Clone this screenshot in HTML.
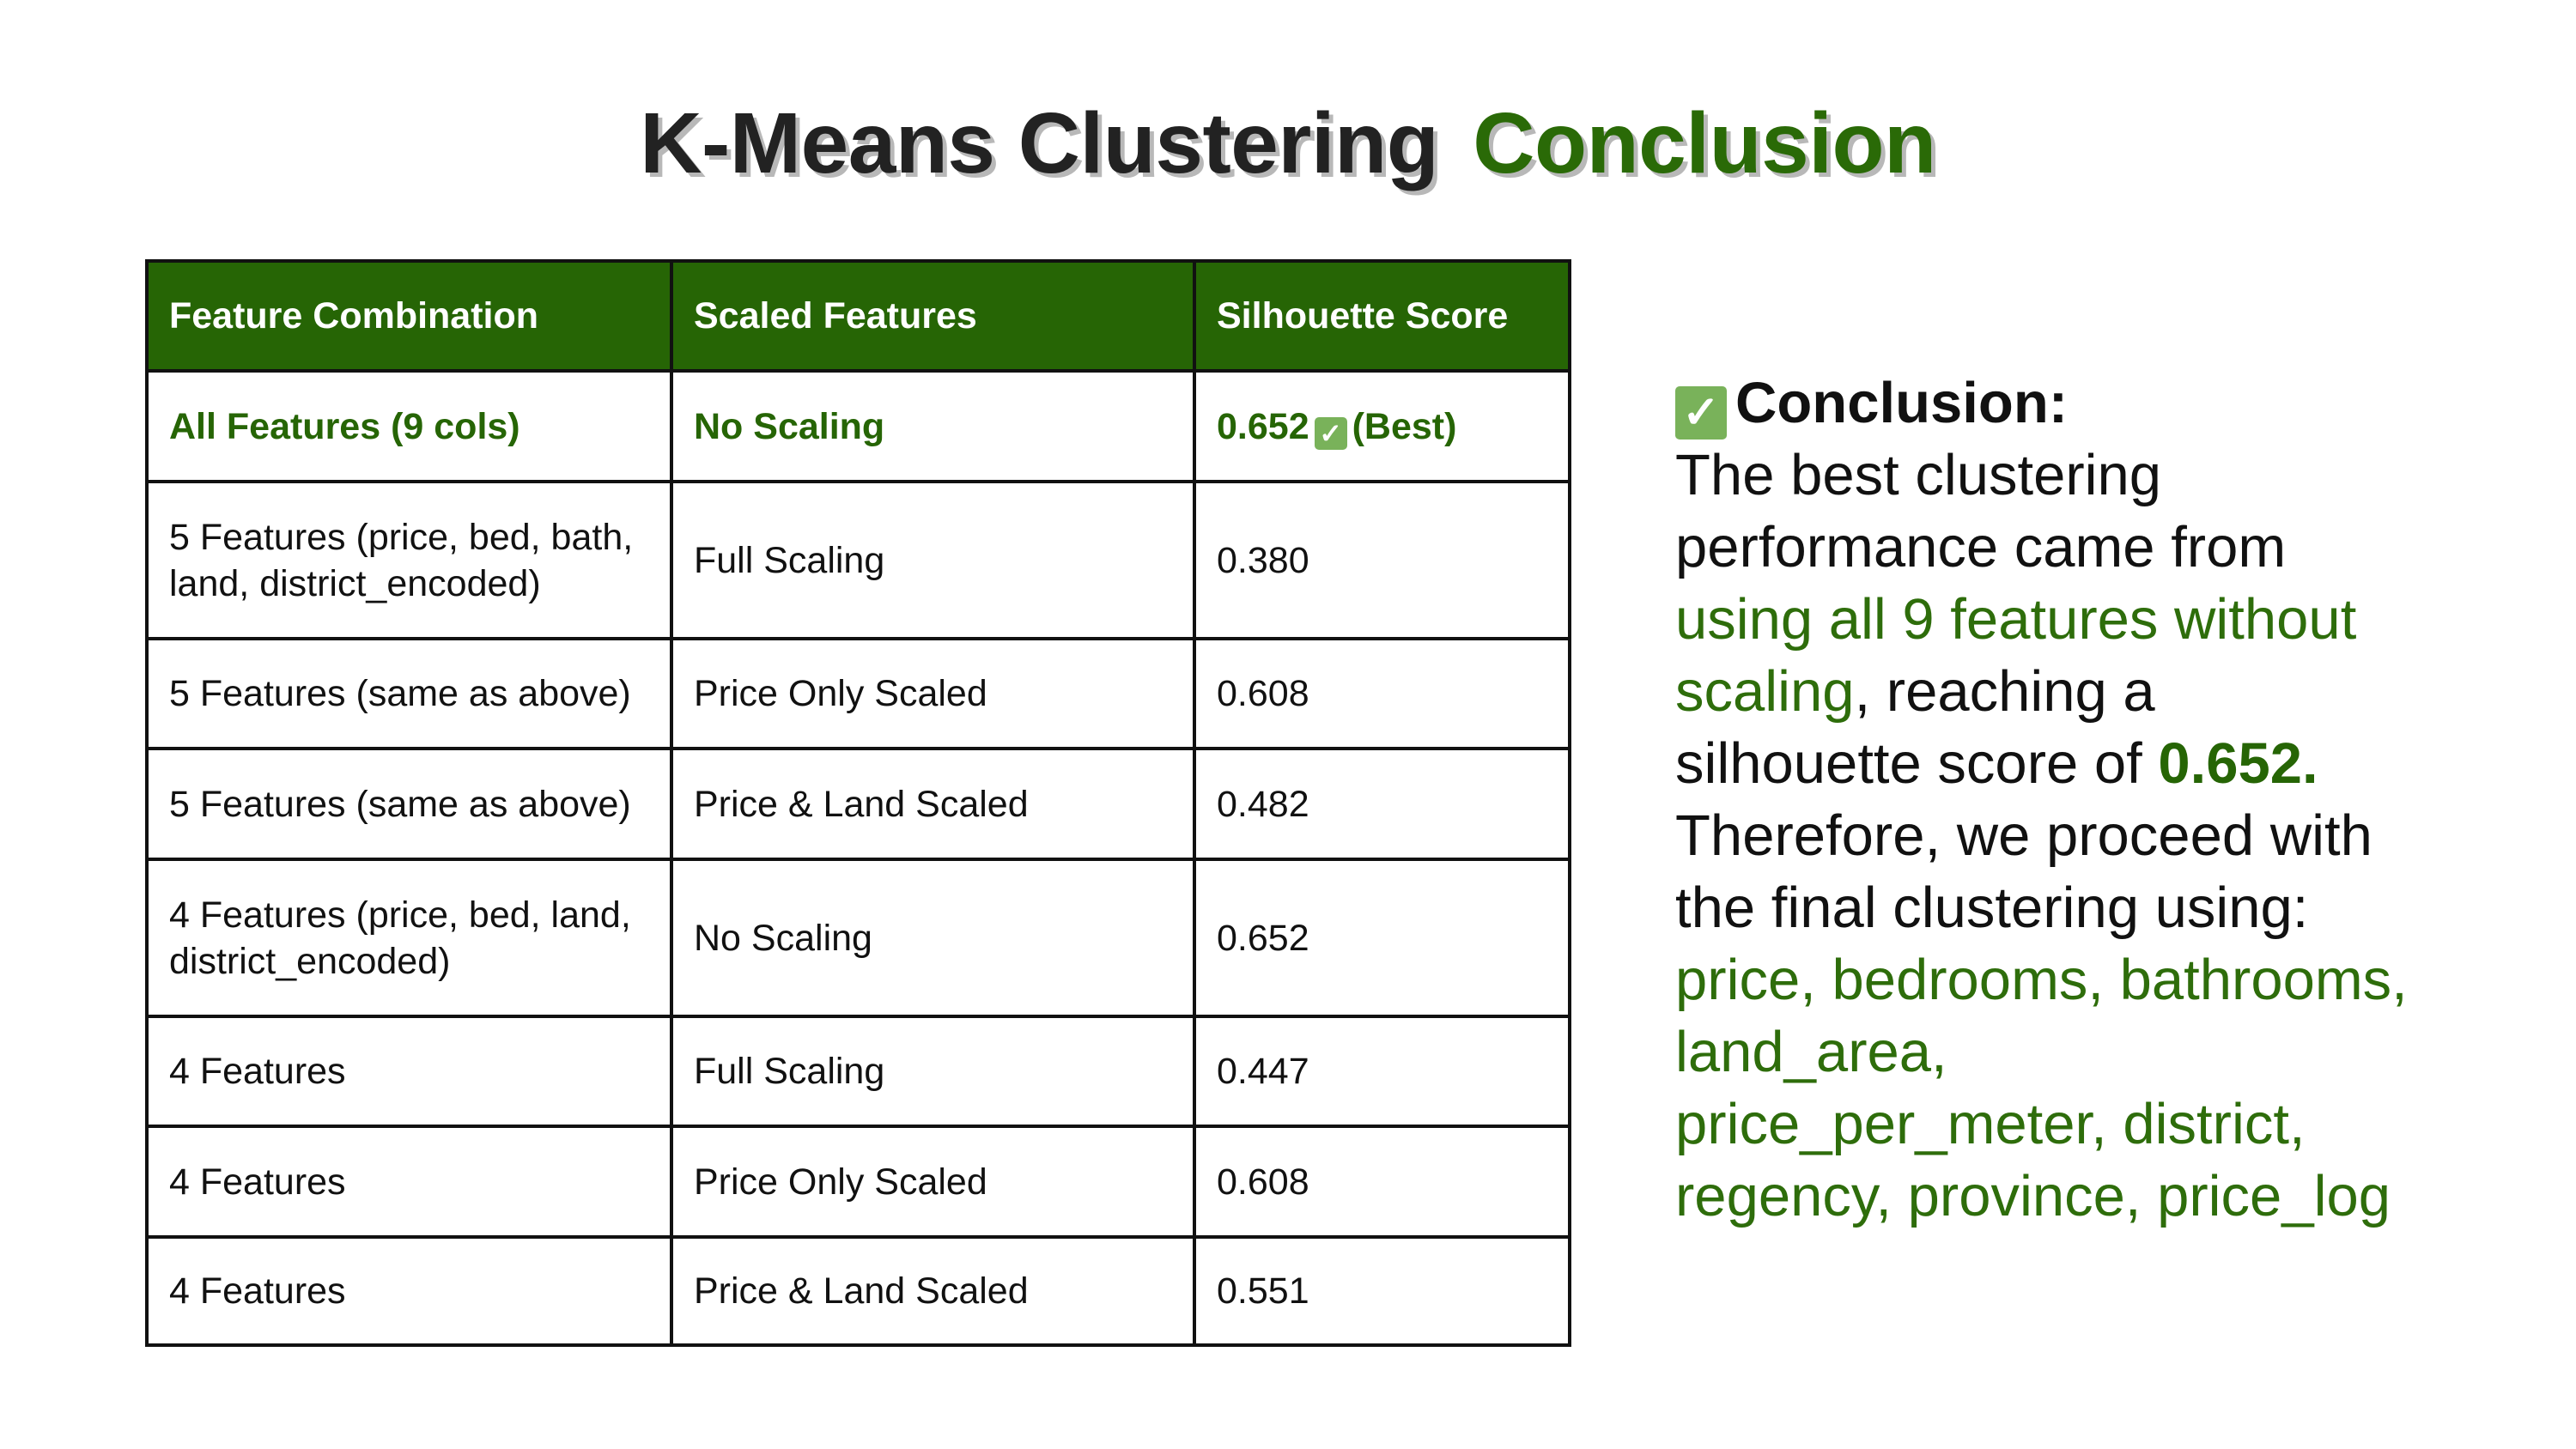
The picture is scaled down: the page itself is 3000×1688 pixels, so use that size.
<!DOCTYPE html>
<html><head><meta charset="utf-8"><style>
html,body{margin:0;padding:0;background:#fff;}
body{width:3000px;height:1688px;position:relative;overflow:hidden;font-family:"Liberation Sans",sans-serif;}
.title{position:absolute;left:0;width:3000px;top:112px;text-align:center;font-size:100px;font-weight:bold;line-height:110px;color:#222;text-shadow:5px 5px 0 #b8b8b8;letter-spacing:-0.5px;}
.title .g{color:#2a6a07;margin-left:40px;}
table{position:absolute;left:169px;top:302px;width:1657px;border-collapse:collapse;table-layout:fixed;}
td,th{border:4px solid #111;padding:0 0 0 24px;font-size:43px;text-align:left;vertical-align:middle;color:#111;line-height:54px;}
th{background:#266505;color:#fff;font-weight:bold;}
.best td{color:#266505;font-weight:bold;}
.chk{display:inline-block;width:38px;height:38px;background:#79b25a;border-radius:5px;color:#fff;font-size:32px;line-height:38px;text-align:center;vertical-align:-5px;margin:0 6px;}
.panel{position:absolute;left:1951px;top:0;}
.ln{position:absolute;left:0;white-space:nowrap;font-size:67px;line-height:84px;color:#111;}
.gr{color:#2e6d0b;}
.bd{font-weight:bold;color:#266505;}
.hd{font-weight:bold;font-size:67px;}
</style></head><body>
<div class="title">K-Means Clustering<span class="g">Conclusion</span></div>
<table>
<colgroup><col style="width:611px"><col style="width:609px"><col style="width:437px"></colgroup>
<tr style="height:128px"><th>Feature Combination</th><th>Scaled Features</th><th>Silhouette Score</th></tr>
<tr class="best" style="height:129px"><td>All Features (9 cols)</td><td>No Scaling</td><td>0.652<span class="chk">✓</span>(Best)</td></tr>
<tr style="height:183px"><td>5 Features (price, bed, bath, land, district_encoded)</td><td>Full Scaling</td><td>0.380</td></tr>
<tr style="height:128px"><td>5 Features (same as above)</td><td>Price Only Scaled</td><td>0.608</td></tr>
<tr style="height:129px"><td>5 Features (same as above)</td><td>Price &amp; Land Scaled</td><td>0.482</td></tr>
<tr style="height:183px"><td>4 Features (price, bed, land, district_encoded)</td><td>No Scaling</td><td>0.652</td></tr>
<tr style="height:128px"><td>4 Features</td><td>Full Scaling</td><td>0.447</td></tr>
<tr style="height:129px"><td>4 Features</td><td>Price Only Scaled</td><td>0.608</td></tr>
<tr style="height:126px"><td>4 Features</td><td>Price &amp; Land Scaled</td><td>0.551</td></tr>
</table>
<div class="panel">
<div class="ln hd" style="top:428px"><span class="chk" style="width:60px;height:62px;line-height:62px;font-size:52px;margin:0 10px 0 0;vertical-align:-6px;">✓</span>Conclusion:</div>
<div class="ln" style="top:512px">The best clustering</div>
<div class="ln" style="top:596px">performance came from</div>
<div class="ln gr" style="top:680px">using all 9 features without</div>
<div class="ln" style="top:764px"><span class="gr">scaling</span>, reaching a</div>
<div class="ln" style="top:848px">silhouette score of <span class="bd">0.652.</span></div>
<div class="ln" style="top:932px">Therefore, we proceed with</div>
<div class="ln" style="top:1016px">the final clustering using:</div>
<div class="ln gr" style="top:1100px">price, bedrooms, bathrooms,</div>
<div class="ln gr" style="top:1184px">land_area,</div>
<div class="ln gr" style="top:1268px">price_per_meter, district,</div>
<div class="ln gr" style="top:1352px">regency, province, price_log</div>
</div>
</body></html>
